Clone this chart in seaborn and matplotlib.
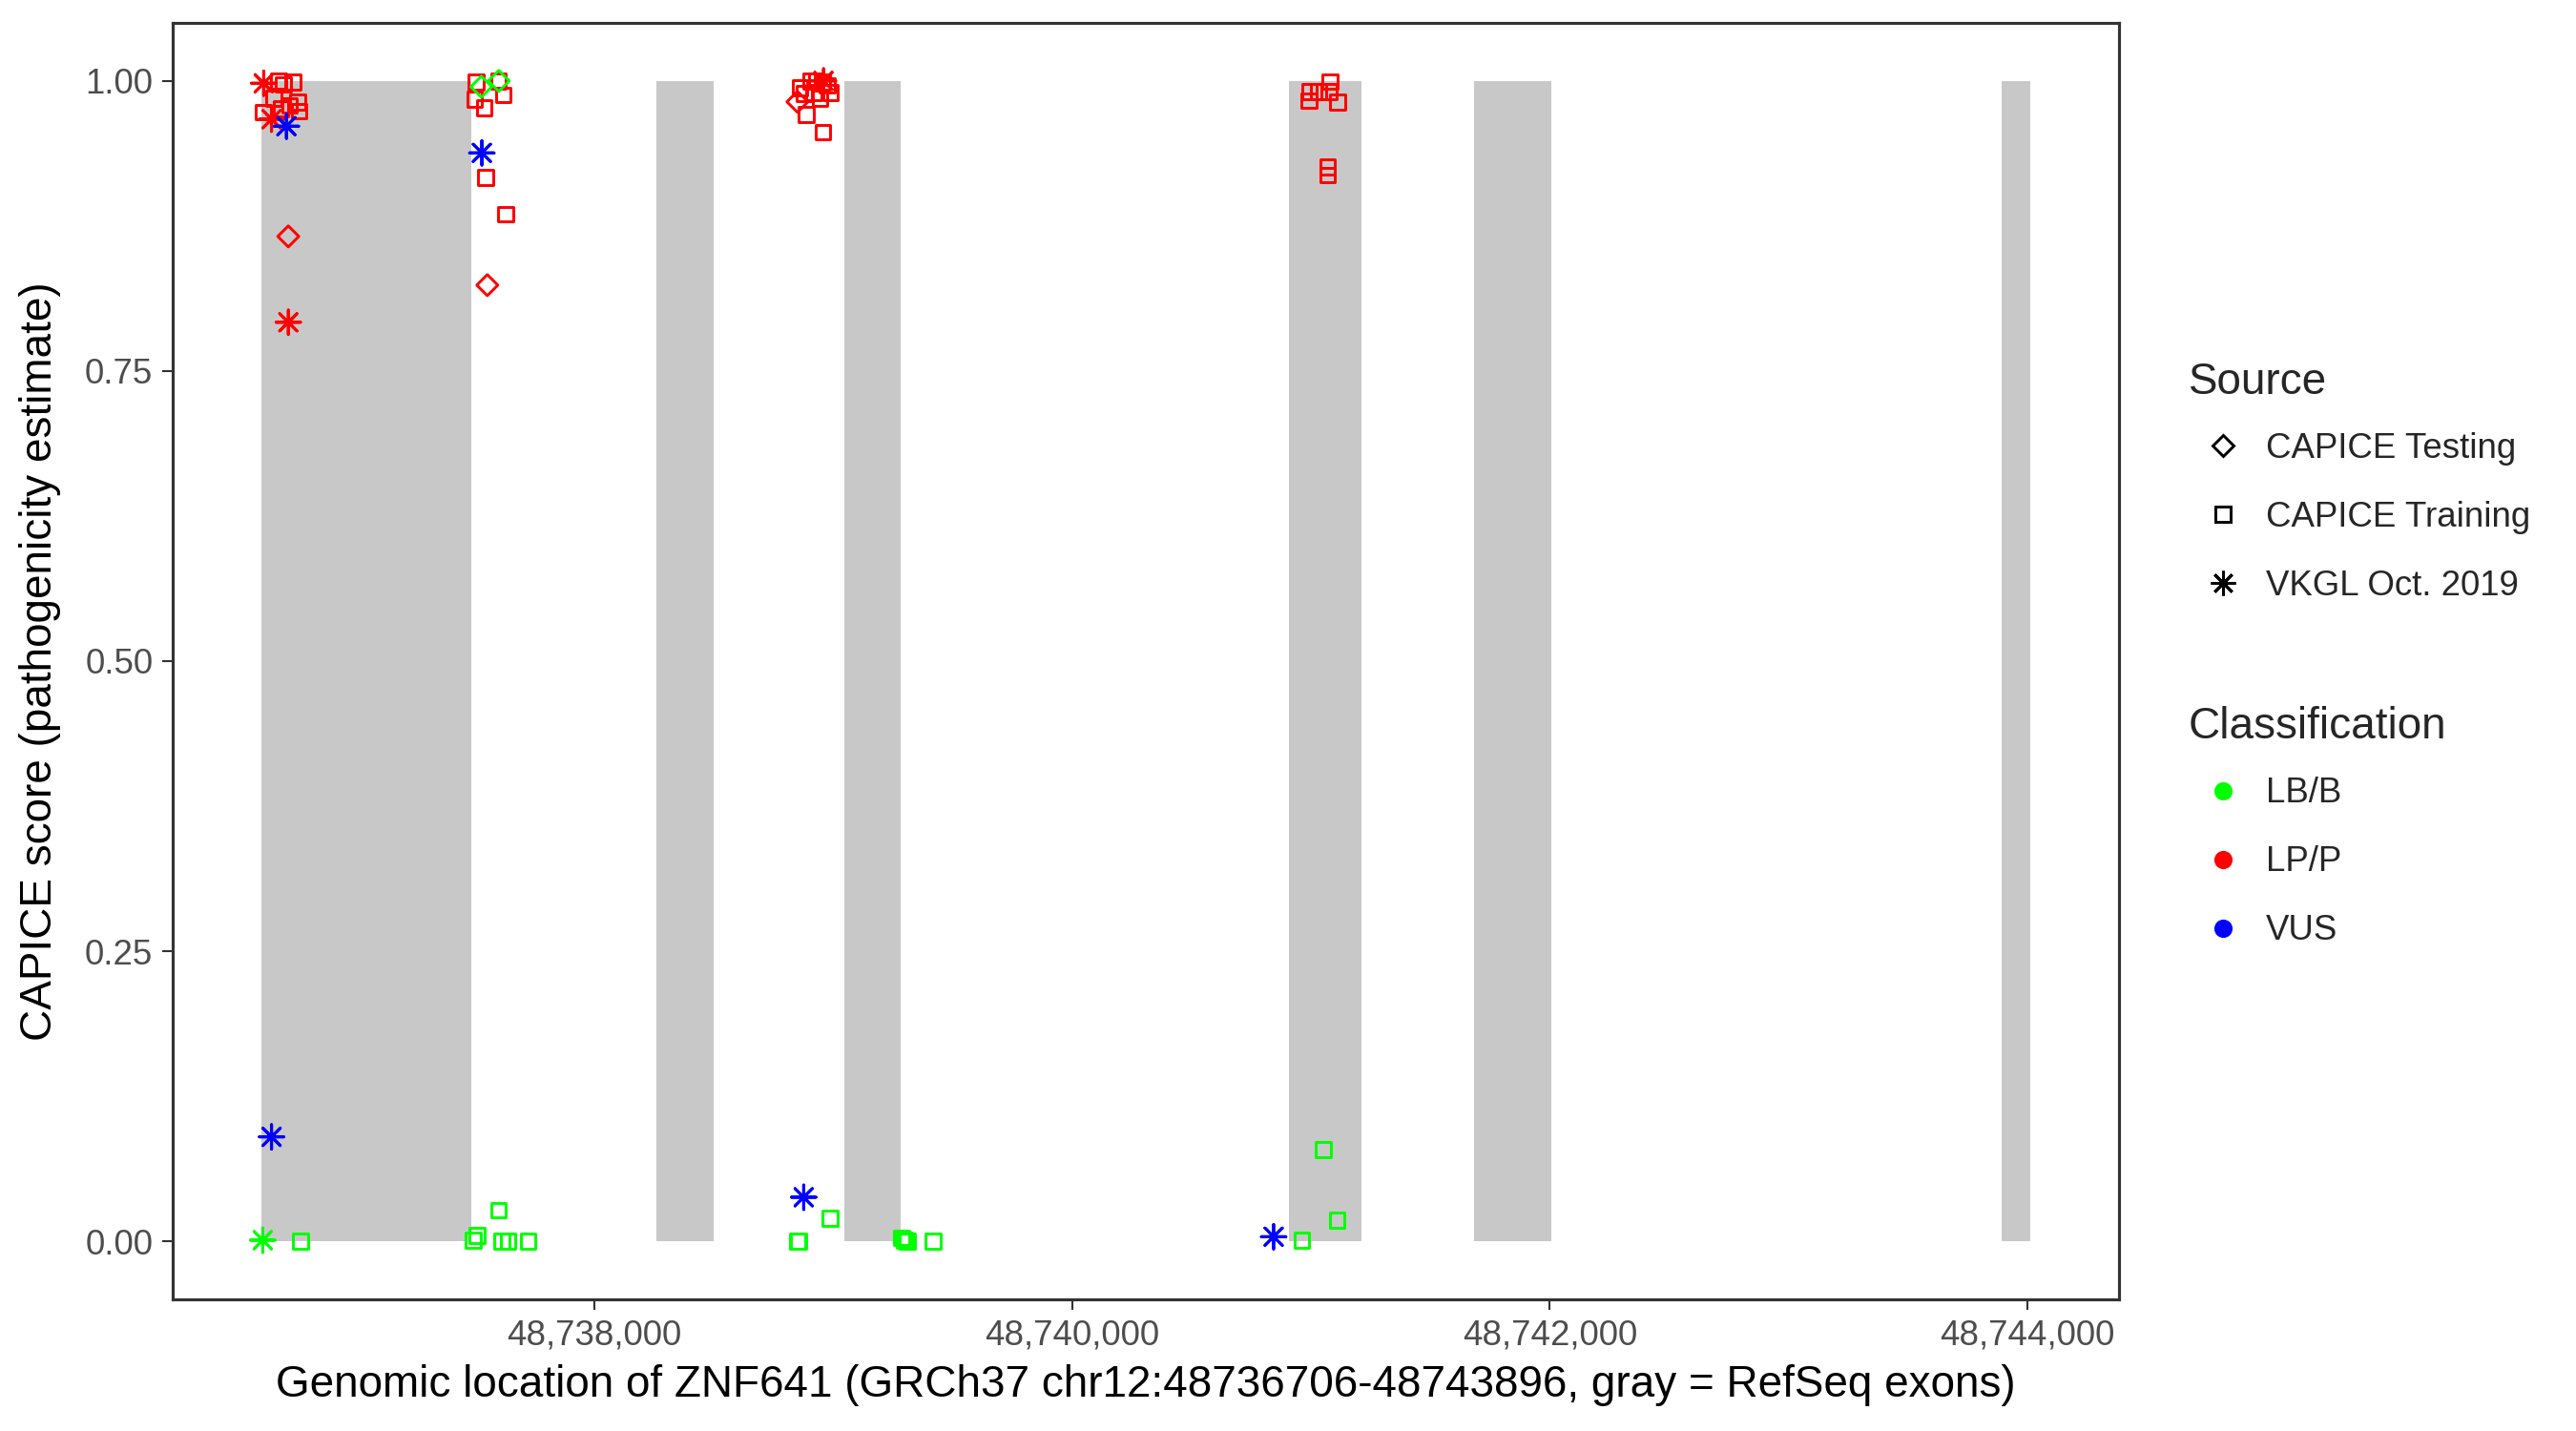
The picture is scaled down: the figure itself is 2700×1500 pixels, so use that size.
import numpy as np
import pandas as pd
import matplotlib
matplotlib.use("Agg")
import matplotlib.pyplot as plt
import seaborn as sns
from matplotlib.markers import MarkerStyle
from matplotlib.transforms import Affine2D
from matplotlib.lines import Line2D
from matplotlib.ticker import FuncFormatter, MultipleLocator

# ---------------- data ----------------
exon_start = [48736606, 48738262, 48739048, 48740907, 48741684, 48743892]
exon_end = [48737484, 48738501, 48739282, 48741210, 48742005, 48744012]

train_lpp_pos = [48736680, 48736740, 48736700, 48736760, 48736615, 48736765, 48736690,
                 48736725, 48736660,
                 48737505, 48737600, 48737620, 48737500, 48737540, 48737545, 48737630,
                 48738862, 48738905, 48738930, 48738955, 48738975, 48738920, 48738880,
                 48738990, 48738887, 48738957, 48738945,
                 48740994, 48740992, 48741032, 48741079, 48741076, 48741112, 48741070,
                 48741070]
train_lpp_score = [1.000, 0.999, 0.997, 0.982, 0.973, 0.974, 0.976,
                   0.979, 0.985,
                   0.999, 1.000, 0.988, 0.984, 0.977, 0.917, 0.885,
                   0.994, 1.000, 1.000, 0.999, 0.996, 0.990, 0.989,
                   0.990, 0.971, 0.956, 0.985,
                   0.991, 0.983, 0.991, 0.9995, 0.991, 0.982, 0.926,
                   0.919]

train_lbb_pos = [48736772,
                 48737494, 48737510, 48737600, 48737614, 48737640, 48737723,
                 48738851, 48738856, 48738987, 48739286, 48739300, 48739310, 48739419,
                 48740962, 48741052, 48741110]
train_lbb_score = [0.000,
                   0.001, 0.005, 0.027, 0.000, 0.000, 0.000,
                   0.000, 0.000, 0.020, 0.003, 0.001, 0.000, 0.000,
                   0.001, 0.079, 0.018]

test_lpp_pos = [48736720, 48737553, 48738851]
test_lpp_score = [0.866, 0.824, 0.982]

test_lbb_pos = [48737528, 48737601]
test_lbb_score = [0.995, 1.000]

vkgl_lpp_pos = [48736617, 48736650, 48736720, 48738960]
vkgl_lpp_score = [0.998, 0.967, 0.792, 1.000]

vkgl_lbb_pos = [48736613]
vkgl_lbb_score = [0.001]

vkgl_vus_pos = [48736712, 48736650, 48737530, 48738877, 48740844]
vkgl_vus_score = [0.961, 0.090, 0.938, 0.038, 0.004]

source_labels = ["CAPICE Testing", "CAPICE Training", "VKGL Oct. 2019"]
class_labels = ["LB/B", "LP/P", "VUS"]
class_colors = ["#00FF00", "#FF0000", "#0000FF"]

x_ticks_step = 2000
y_ticks = [0.00, 0.25, 0.50, 0.75, 1.00]

# ---------------- frame ----------------
groups = [
    (train_lpp_pos, train_lpp_score, "CAPICE Training", "LP/P"),
    (train_lbb_pos, train_lbb_score, "CAPICE Training", "LB/B"),
    (test_lpp_pos, test_lpp_score, "CAPICE Testing", "LP/P"),
    (test_lbb_pos, test_lbb_score, "CAPICE Testing", "LB/B"),
    (vkgl_lpp_pos, vkgl_lpp_score, "VKGL Oct. 2019", "LP/P"),
    (vkgl_lbb_pos, vkgl_lbb_score, "VKGL Oct. 2019", "LB/B"),
    (vkgl_vus_pos, vkgl_vus_score, "VKGL Oct. 2019", "VUS"),
]
frames = []
for p, s, src, cl in groups:
    frames.append(pd.DataFrame({"pos": p, "score": s, "source": src, "cls": cl}))
df = pd.concat(frames, ignore_index=True)

# ---------------- style ----------------
sns.set_theme(style="white")
plt.rcParams["font.family"] = ["Liberation Sans", "DejaVu Sans"]

fig = plt.figure(figsize=(9, 5), dpi=300)
ax = fig.add_axes([0.067, 0.092, 0.8226 - 0.067, 0.984 - 0.092])

# exons
ax.bar(x=exon_start, height=1.0,
       width=np.subtract(exon_end, exon_start), align="edge",
       color="#C8C8C8", linewidth=0, zorder=0)

ast = MarkerStyle((8, 2, 0), transform=Affine2D().scale(1.65))
markers = {
    "CAPICE Testing": MarkerStyle("D", fillstyle="none"),
    "CAPICE Training": MarkerStyle("s", fillstyle="none"),
    "VKGL Oct. 2019": ast,
}
palette = dict(zip(class_labels, class_colors))

sns.scatterplot(data=df, x="pos", y="score", hue="cls", style="source",
                hue_order=class_labels, style_order=source_labels,
                markers=markers, palette=palette, s=14, linewidth=0.71,
                legend=False, ax=ax, zorder=3)
coll = ax.collections[-1]
fc = coll.get_facecolors()
coll.set_edgecolors(fc)
coll.set_facecolors("none")
coll.set_linewidths(0.71)

# limits with 5% expansion
lo = min(min(exon_start), df["pos"].min())
hi = max(max(exon_end), df["pos"].max())
pad = 0.05 * (hi - lo)
ax.set_xlim(lo - pad, hi + pad)
ax.set_ylim(-0.05, 1.05)

ax.xaxis.set_major_locator(MultipleLocator(x_ticks_step))
ax.xaxis.set_major_formatter(FuncFormatter(lambda v, p: f"{int(round(v)):,}"))
ax.set_yticks(y_ticks)
ax.yaxis.set_major_formatter(FuncFormatter(lambda v, p: f"{v:.2f}"))

ax.tick_params(axis="both", which="major", length=2.75, width=0.5,
               color="#333333", labelcolor="#4D4D4D", labelsize=8.8,
               pad=2.2, direction="out", bottom=True, left=True)
for sp in ax.spines.values():
    sp.set_color("#333333")
    sp.set_linewidth(0.75)
    sp.set_visible(True)
ax.grid(False)
ax.set_facecolor("white")

ax.set_xlabel("Genomic location of ZNF641 (GRCh37 chr12:48736706-48743896, gray = RefSeq exons)",
              fontsize=11, color="black", labelpad=3)
ax.set_ylabel("CAPICE score (pathogenicity estimate)", fontsize=11, color="black",
              labelpad=6)

# legends
leg_src_handles = [
    Line2D([], [], linestyle="none", marker=MarkerStyle("D", fillstyle="none"),
           markersize=3.75, markeredgecolor="black", markeredgewidth=0.71),
    Line2D([], [], linestyle="none", marker=MarkerStyle("s", fillstyle="none"),
           markersize=3.75, markeredgecolor="black", markeredgewidth=0.71),
    Line2D([], [], linestyle="none", marker=ast,
           markersize=3.75, markeredgecolor="black", markeredgewidth=0.71),
]
leg_cls_handles = [
    Line2D([], [], linestyle="none", marker="o", markersize=4.6,
           markerfacecolor=c, markeredgewidth=0) for c in class_colors
]

common = dict(loc="upper left", frameon=False, fontsize=8.8, title_fontsize=11,
              handlelength=1.96, handletextpad=0.25, labelspacing=1.01,
              borderpad=0, borderaxespad=0, alignment="left")
leg1 = fig.legend(leg_src_handles, source_labels, title="Source",
                  bbox_to_anchor=(0.8496, 0.7474), **common)
leg2 = fig.legend(leg_cls_handles, class_labels, title="Classification",
                  bbox_to_anchor=(0.8496, 0.5064), **common)
for lg in (leg1, leg2):
    lg._legend_box.sep = 7.2

fig.savefig("out.png", dpi=300, facecolor="white")
